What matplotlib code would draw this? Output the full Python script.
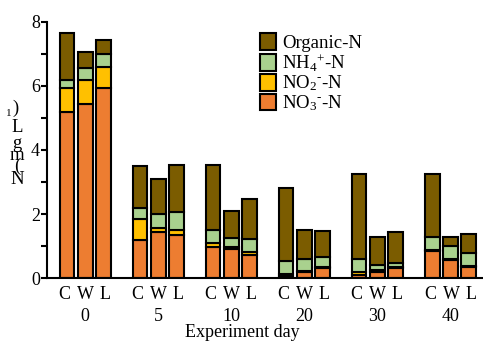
import numpy as np
import matplotlib.pyplot as plt

plt.rcParams['font.family'] = ['Liberation Serif', 'DejaVu Serif']
plt.rcParams['mathtext.fontset'] = 'custom'
plt.rcParams['mathtext.rm'] = 'Liberation Serif'
plt.rcParams['mathtext.it'] = 'Liberation Serif'

days = ['0', '5', '10', '20', '30', '40']
treatments = ['C', 'W', 'L']

# segment heights, order per day: C, W, L
no3 = [5.19, 5.45, 5.93, 1.19, 1.44, 1.33, 0.98, 0.90, 0.72,
       0.06, 0.20, 0.31, 0.09, 0.20, 0.31, 0.85, 0.57, 0.36]
no2 = [0.76, 0.73, 0.67, 0.65, 0.13, 0.17, 0.12, 0.08, 0.08,
       0.06, 0.03, 0.04, 0.11, 0.05, 0.04, 0.03, 0.02, 0.02]
nh4 = [0.24, 0.37, 0.39, 0.36, 0.42, 0.56, 0.40, 0.28, 0.41,
       0.42, 0.37, 0.30, 0.40, 0.16, 0.13, 0.41, 0.42, 0.39]
org = [1.46, 0.50, 0.43, 1.30, 1.11, 1.48, 2.02, 0.83, 1.26,
       2.26, 0.89, 0.82, 2.64, 0.88, 0.96, 1.96, 0.28, 0.61]

colors = {'org': '#7b5c00', 'nh4': '#a9d18e', 'no2': '#ffc000', 'no3': '#ed7d31'}

x = np.array([g * 4 + i for g in range(len(days)) for i in range(3)])
group_x = np.arange(len(days)) * 4 + 1

fig = plt.figure(figsize=(4.83, 3.42), dpi=100)
ax = fig.add_axes([0.097, 0.187, 0.9, 0.749])

kw = dict(width=0.8, edgecolor='black', linewidth=1.5)
b = np.zeros(len(x))
h1 = ax.bar(x, no3, bottom=b, color=colors['no3'], **kw)
b += no3
h2 = ax.bar(x, no2, bottom=b, color=colors['no2'], **kw)
b += no2
h3 = ax.bar(x, nh4, bottom=b, color=colors['nh4'], **kw)
b += nh4
h4 = ax.bar(x, org, bottom=b, color=colors['org'], **kw)

ax.set_ylim(0, 8)
ax.set_xlim(-1.1, 22.7)
ax.set_yticks([0, 2, 4, 6, 8])
ax.set_yticks([1, 3, 5, 7], minor=True)
ax.tick_params(axis='y', which='both', direction='out', length=4, width=1.5, labelsize=13, pad=1)
ax.set_xticks(group_x)
ax.set_xticklabels(['\u2004'.join(treatments)] * len(days), fontsize=13)
ax.tick_params(axis='x', length=0, pad=6)

for s in ['top', 'right']:
    ax.spines[s].set_visible(False)
ax.spines['left'].set_linewidth(1.5)
ax.spines['bottom'].set_linewidth(1.5)

for gx, d in zip(group_x, days):
    ax.text(gx, -1.19, d, ha='center', va='center', fontsize=13)
ax.text(9.6, -1.71, 'Experiment day', ha='center', va='center', fontsize=13)

# garbled vertical y-label as in the original
ylab = [(')', 108, 16, 13.5), ('1', 113, 9, 8), ('L', 128, 17, 13.5),
        ('g', 143, 17, 13.5), ('m', 156, 17, 13.5), ('(', 166, 17, 13.5),
        ('N', 180, 17, 13.5)]
for ch, yy, xx, fs in ylab:
    fig.text(xx / 483, 1 - yy / 342, ch, ha='center', va='center', fontsize=fs)

leg = ax.legend([h4, h3, h2, h1],
                ['Organic-N', r'NH$_4$$^{+}$-N', r'NO$_2$$^{\text{-}}$-N', r'NO$_3$$^{\text{-}}$-N'],
                loc='upper left', bbox_to_anchor=(0.49, 0.955), frameon=False,
                fontsize=13.5, handlelength=0.85, handleheight=1.0, labelspacing=0.0,
                handletextpad=0.35, borderpad=0.0, borderaxespad=0.0)

fig.savefig('out.png', dpi=100)
